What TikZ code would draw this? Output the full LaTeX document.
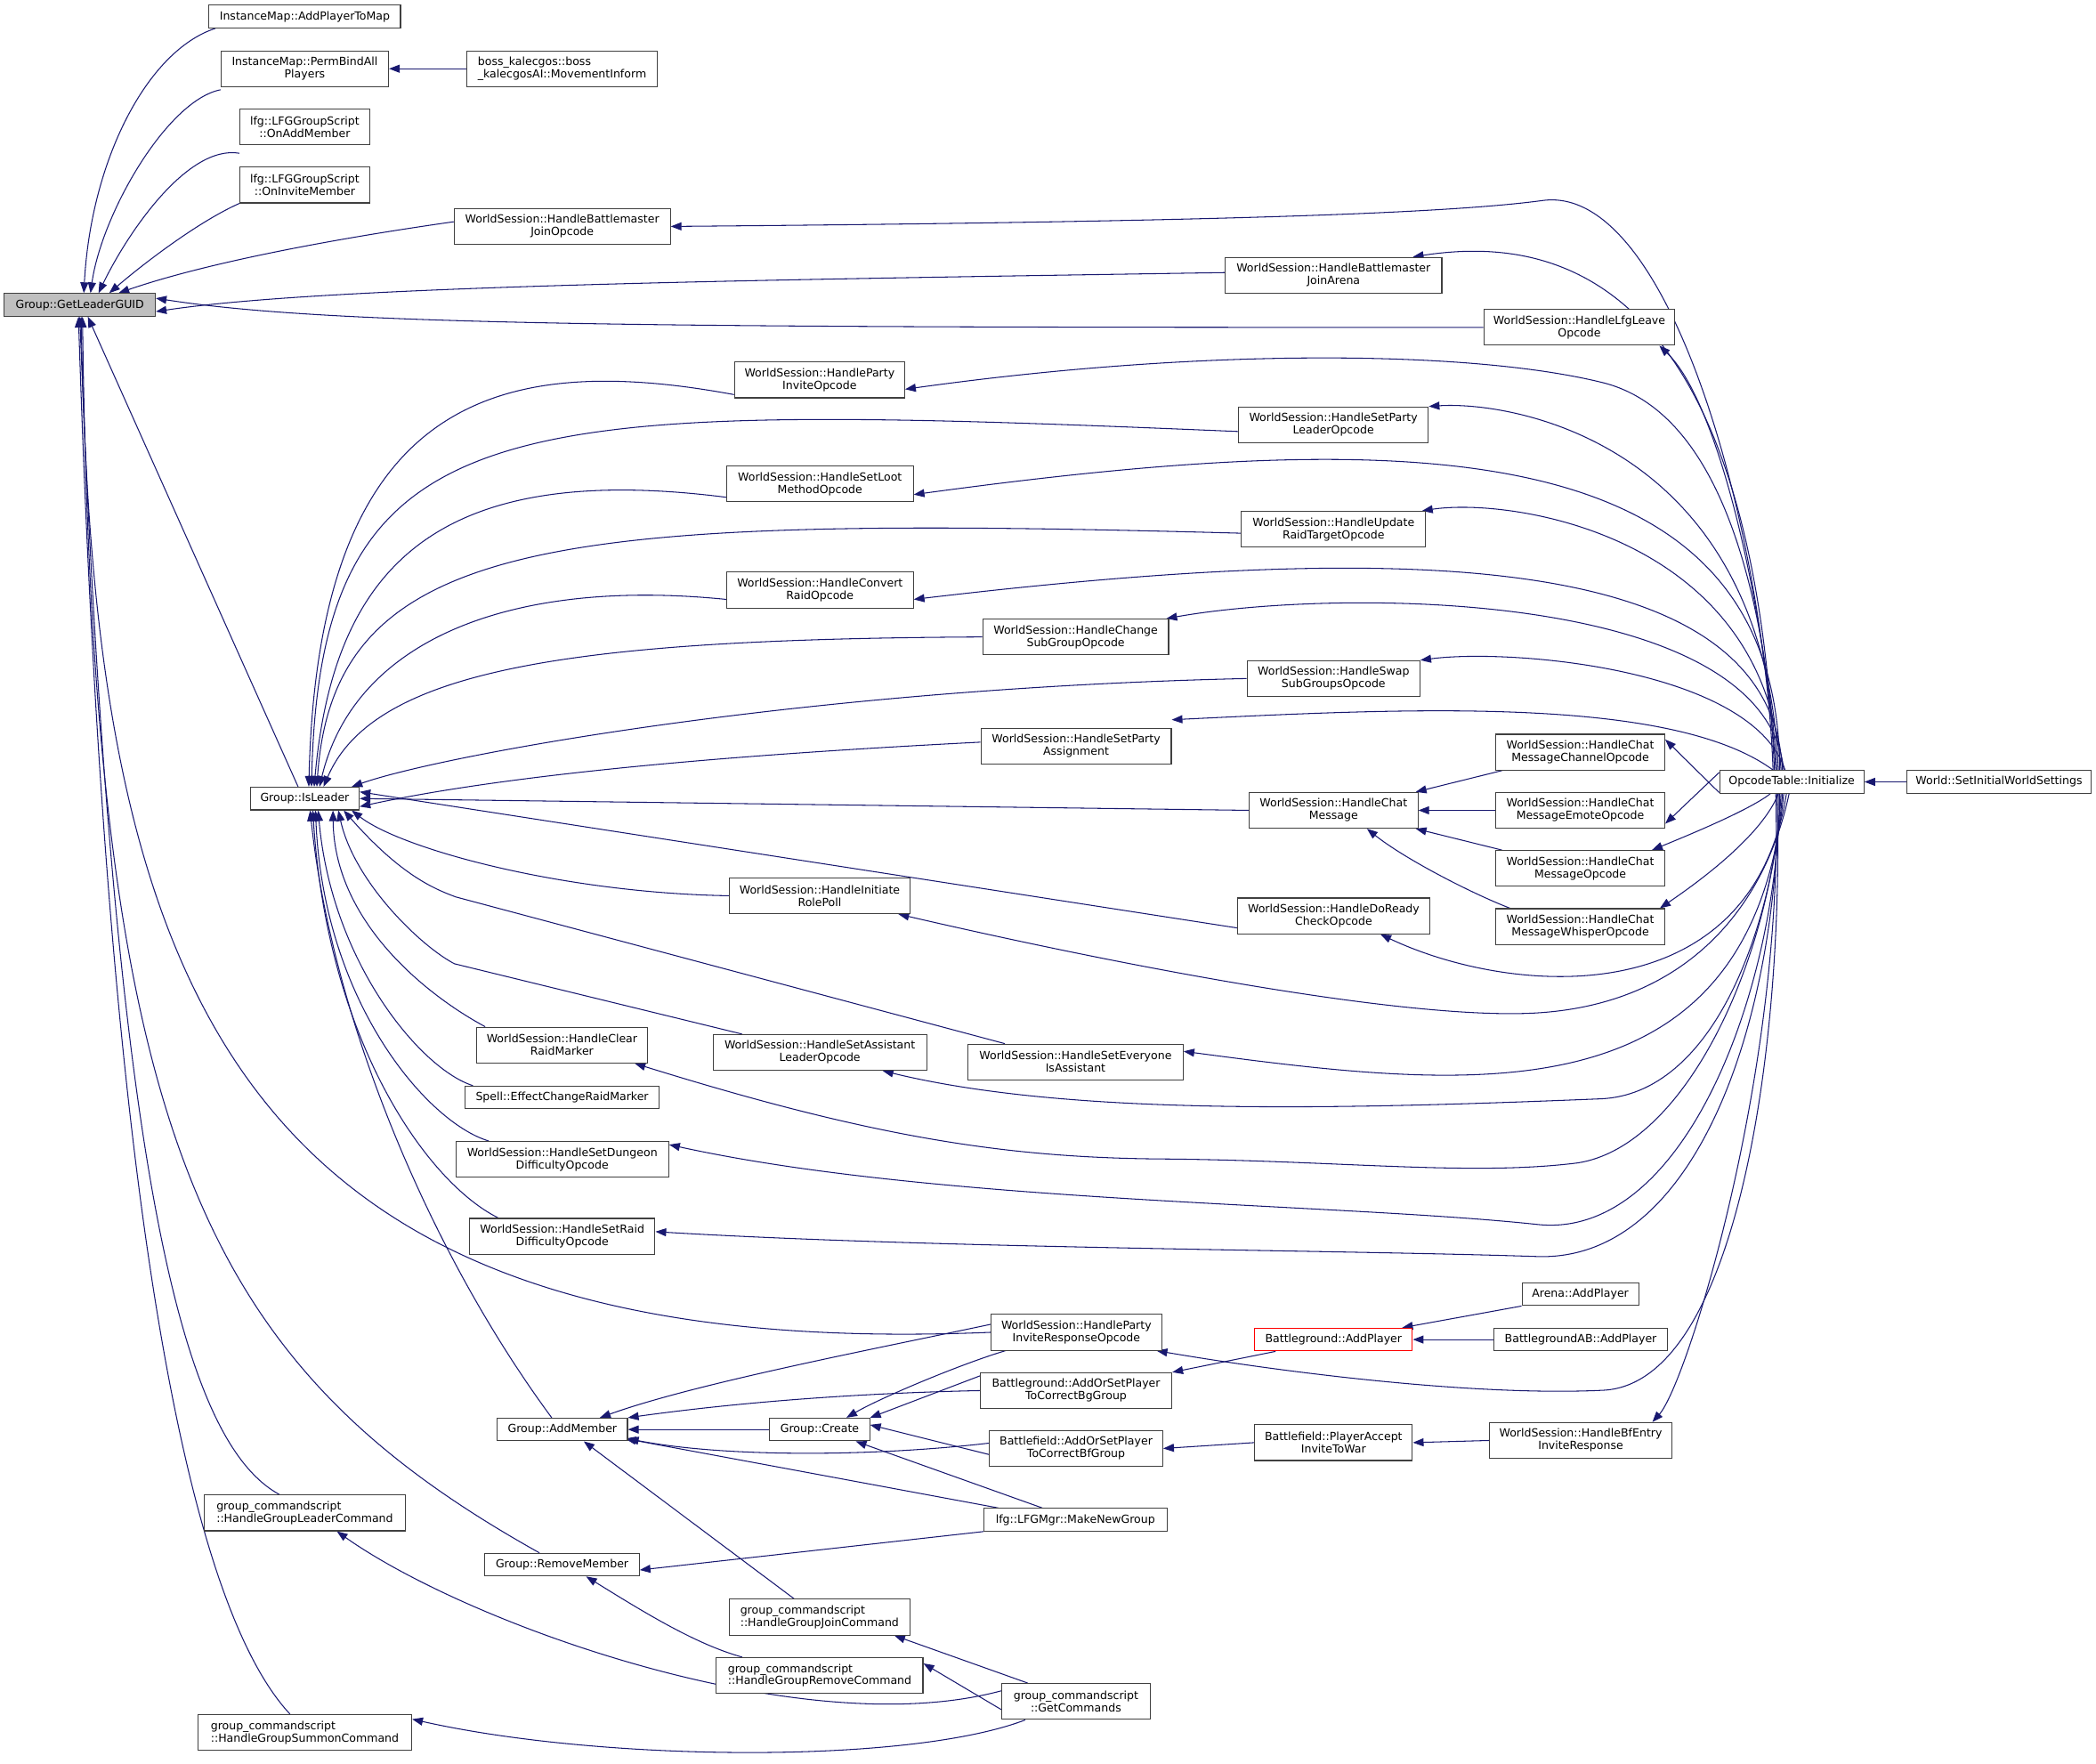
\documentclass[tikz,border=0pt]{standalone}
\usepackage{fontspec}
\setmainfont{DejaVu Sans}
\usetikzlibrary{arrows.meta}
\pgfdeclarelayer{edges}
\pgfsetlayers{edges,main}
\definecolor{edgeblue}{RGB}{25,25,112}
\definecolor{rootgray}{RGB}{191,191,191}
\tikzset{every picture/.style={line width=0.7pt}}
\tikzset{
	fn/.style={draw=black!75, fill=white, inner sep=1pt, minimum height=17pt, font=\fontsize{8.35}{9.3}\selectfont, align=center},
	fntwo/.style={fn, minimum height=26.8pt},
	call/.style={draw=edgeblue, line width=0.7pt, {Triangle[length=8pt,width=6pt]}-}
}

\begin{document}
\begin{tikzpicture}[x=1pt,y=1pt,yscale=-1,xscale=1]
	\useasboundingbox (0,0) rectangle (1568,1319.6);

	% Nodes
	\node[fn, fill=rootgray, minimum width=113pt] (getleader) at (59.7,228.1) {Group::GetLeaderGUID};
	\node[fn, minimum width=143.2pt] (addplayertomap) at (228,12.4) {InstanceMap::AddPlayerToMap};
	\node[fntwo, minimum width=125.3pt] (permbind) at (228,51.4) {InstanceMap::PermBindAll\\Players};
	\node[fntwo, minimum width=143pt, align=left] (boss) at (420.5,51.4) {boss\_kalecgos::boss\\\_kalecgosAI::MovementInform};
	\node[fntwo, minimum width=97pt] (onadd) at (228,94.9) {lfg::LFGGroupScript\\::OnAddMember};
	\node[fntwo, minimum width=97pt] (oninvite) at (228,138.4) {lfg::LFGGroupScript\\::OnInviteMember};
	\node[fntwo, minimum width=161.7pt] (bmjoinop) at (420.6,169.4) {WorldSession::HandleBattlemaster\\JoinOpcode};
	\node[fntwo, minimum width=162pt] (bmjoinarena) at (997.6,205.9) {WorldSession::HandleBattlemaster\\JoinArena};
	\node[fntwo, minimum width=143pt] (lfgleave) at (1181.5,244.9) {WorldSession::HandleLfgLeave\\Opcode};
	\node[fntwo, minimum width=127.3pt] (partyinvite) at (613.1,284.2) {WorldSession::HandleParty\\InviteOpcode};
	\node[fntwo, minimum width=142pt] (setpartyleader) at (997.5,317.8) {WorldSession::HandleSetParty\\LeaderOpcode};
	\node[fntwo, minimum width=139.6pt] (setloot) at (613.4,362) {WorldSession::HandleSetLoot\\MethodOpcode};
	\node[fntwo, minimum width=137.7pt] (updateraid) at (997.6,395.9) {WorldSession::HandleUpdate\\RaidTargetOpcode};
	\node[fntwo, minimum width=139.6pt] (convertraid) at (613.4,441.4) {WorldSession::HandleConvert\\RaidOpcode};
	\node[fntwo, minimum width=139pt] (changesub) at (804.7,476.5) {WorldSession::HandleChange\\SubGroupOpcode};
	\node[fntwo, minimum width=129.3pt] (swapsub) at (997.6,507.6) {WorldSession::HandleSwap\\SubGroupsOpcode};
	\node[fntwo, minimum width=142.4pt] (partyassign) at (805,558.2) {WorldSession::HandleSetParty\\Assignment};
	\node[fntwo, minimum width=126.3pt] (chatmsg) at (997.6,606.2) {WorldSession::HandleChat\\Message};
	\node[fntwo, minimum width=126.4pt] (chatchannel) at (1182.2,562.7) {WorldSession::HandleChat\\MessageChannelOpcode};
	\node[fntwo, minimum width=126.4pt] (chatemote) at (1182.2,606.2) {WorldSession::HandleChat\\MessageEmoteOpcode};
	\node[fntwo, minimum width=126.4pt] (chatmsgop) at (1182.2,649.7) {WorldSession::HandleChat\\MessageOpcode};
	\node[fntwo, minimum width=126.4pt] (chatwhisper) at (1182.2,693.2) {WorldSession::HandleChat\\MessageWhisperOpcode};
	\node[fn, minimum width=108pt] (opcodeinit) at (1340.4,584.9) {OpcodeTable::Initialize};
	\node[fn, minimum width=137.8pt] (setinitial) at (1495.4,584.9) {World::SetInitialWorldSettings};
	\node[fn, minimum width=81.5pt] (isleader) at (228,597.4) {Group::IsLeader};
	\node[fntwo, minimum width=135pt] (initrole) at (613.2,670.1) {WorldSession::HandleInitiate\\RolePoll};
	\node[fntwo, minimum width=143.5pt] (doready) at (997.7,685.2) {WorldSession::HandleDoReady\\CheckOpcode};
	\node[fntwo, minimum width=128.2pt] (clearraid) at (420.4,781.8) {WorldSession::HandleClear\\RaidMarker};
	\node[fntwo, minimum width=159.8pt] (setassist) at (613.3,787.3) {WorldSession::HandleSetAssistant\\LeaderOpcode};
	\node[fntwo, minimum width=161pt] (seteveryone) at (804.6,794.5) {WorldSession::HandleSetEveryone\\IsAssistant};
	\node[fn, minimum width=144.7pt] (spellraid) at (420.5,821) {Spell::EffectChangeRaidMarker};
	\node[fntwo, minimum width=159.3pt] (setdungeon) at (420.6,867.3) {WorldSession::HandleSetDungeon\\DifficultyOpcode};
	\node[fntwo, minimum width=138.8pt] (setraid) at (420.6,924.9) {WorldSession::HandleSetRaid\\DifficultyOpcode};
	\node[fntwo, minimum width=127.4pt] (partyinvresp) at (805.2,996.7) {WorldSession::HandleParty\\InviteResponseOpcode};
	\node[fn, draw=red, minimum width=118pt] (bgaddplayer) at (997.6,1002.1) {Battleground::AddPlayer};
	\node[fn, minimum width=87.3pt] (arenaadd) at (1182.2,968.2) {Arena::AddPlayer};
	\node[fn, minimum width=129.8pt] (bgabadd) at (1182.5,1002.1) {BattlegroundAB::AddPlayer};
	\node[fntwo, minimum width=143.3pt] (bgaddorset) at (805,1040.3) {Battleground::AddOrSetPlayer\\ToCorrectBgGroup};
	\node[fn, minimum width=97.4pt] (addmember) at (420.7,1069.4) {Group::AddMember};
	\node[fn, minimum width=74.7pt] (create) at (613.2,1069.4) {Group::Create};
	\node[fntwo, minimum width=129.7pt] (bfaddorset) at (805,1083.6) {Battlefield::AddOrSetPlayer\\ToCorrectBfGroup};
	\node[fntwo, minimum width=118pt] (bfaccept) at (997.6,1079.2) {Battlefield::PlayerAccept\\InviteToWar};
	\node[fntwo, minimum width=136.5pt] (bfentry) at (1182.5,1077.6) {WorldSession::HandleBfEntry\\InviteResponse};
	\node[fn, minimum width=137pt] (makenew) at (804.5,1136.9) {lfg::LFGMgr::MakeNewGroup};
	\node[fntwo, minimum width=150.3pt, align=left] (grpleadercmd) at (228,1131.8) {group\_commandscript\\::HandleGroupLeaderCommand};
	\node[fn, minimum width=115.5pt] (removemember) at (420.5,1170.5) {Group::RemoveMember};
	\node[fntwo, minimum width=135.2pt, align=left] (joincmd) at (613.1,1209.8) {group\_commandscript\\::HandleGroupJoinCommand};
	\node[fntwo, minimum width=154.5pt, align=left] (removecmd) at (613.2,1253.4) {group\_commandscript\\::HandleGroupRemoveCommand};
	\node[fntwo, minimum width=111.1pt] (getcommands) at (804.9,1272.9) {group\_commandscript\\::GetCommands};
	\node[fntwo, minimum width=160pt, align=left] (summoncmd) at (228,1296.1) {group\_commandscript\\::HandleGroupSummonCommand};

	\begin{pgfonlayer}{edges}
	% Callers of Group::GetLeaderGUID
	\draw[call] ([xshift=3pt]getleader.north) .. controls (68,120) and (110,38) .. ([xshift=5pt]addplayertomap.south west);
	\draw[call] ([xshift=8pt]getleader.north) .. controls (76,160) and (125,75) .. ([yshift=2pt]permbind.south west);
	\draw[call] ([xshift=14pt]getleader.north) .. controls (95,175) and (140,108) .. ([yshift=6pt]onadd.south west);
	\draw[call] ([xshift=22pt]getleader.north) .. controls (110,195) and (150,165) .. (oninvite.south west);
	\draw[call] ([xshift=29pt]getleader.north) .. controls (150,198) and (240,180) .. ([yshift=-3.5pt]bmjoinop.west);
	\draw[call] ([yshift=5pt]getleader.east) .. controls (250,213) and (600,209) .. ([yshift=-2pt]bmjoinarena.west);
	\draw[call] ([yshift=-5pt]getleader.east) .. controls (250,244) and (500,245) .. (lfgleave.west);
	\draw[call] ([xshift=6pt]getleader.south) -- ([xshift=-5pt]isleader.north);
	\draw[call] ([xshift=1pt]getleader.south) .. controls (70,750) and (180,1020) .. (partyinvresp.west);
	\draw[call] ([xshift=2pt]getleader.south) .. controls (70,850) and (150,1020) .. ([xshift=-17pt]removemember.north);
	\draw[call] (getleader.south) .. controls (85,900) and (140,1080) .. ([xshift=-19pt]grpleadercmd.north);
	\draw[call] ([xshift=-1pt]getleader.south) .. controls (80,900) and (140,1200) .. ([xshift=-11pt]summoncmd.north);
	\draw[call] (permbind.east) -- (boss.west);

	% Callers of Group::IsLeader
	\draw[call] ([xshift=3pt]isleader.north) .. controls (238,300) and (370,262) .. ([yshift=11pt]partyinvite.west);
	\draw[call] ([xshift=5pt]isleader.north) .. controls (240,300) and (380,300) .. ([yshift=5pt]setpartyleader.west);
	\draw[call] ([xshift=7pt]isleader.north) .. controls (250,420) and (331,345) .. ([yshift=10pt]setloot.west);
	\draw[call] ([xshift=9pt]isleader.north) .. controls (250,400) and (420,385) .. ([yshift=3pt]updateraid.west);
	\draw[call] ([xshift=11pt]isleader.north) .. controls (265,480) and (380,432) .. ([yshift=7pt]convertraid.west);
	\draw[call] ([xshift=14pt]isleader.north) .. controls (280,500) and (430,478) .. (changesub.west);
	\draw[call] ([xshift=-6pt]isleader.north east) .. controls (330,565) and (600,515) .. (swapsub.west);
	\draw[call] ([yshift=6pt]isleader.east) .. controls (400,575) and (600,562) .. ([yshift=-3pt]partyassign.west);
	\draw[call] (isleader.east) -- (chatmsg.west);
	\draw[call] ([yshift=-5pt]isleader.east) -- ([yshift=9pt]doready.west);
	\draw[call] ([xshift=-6pt]isleader.south east) .. controls (300,635) and (420,668) .. (initrole.west);
	\draw[call] ([xshift=-12pt]isleader.south east) .. controls (300,655) and (325,665) .. (341,671) -- ([xshift=28pt]seteveryone.north west);
	\draw[call] ([xshift=-16pt]isleader.south east) .. controls (265,660) and (315,708) .. (340,721) -- ([xshift=22pt]setassist.north west);
	\draw[call] ([xshift=-20pt]isleader.south east) .. controls (250,690) and (320,745) .. ([xshift=7pt]clearraid.north west);
	\draw[call] ([xshift=10pt]isleader.south) .. controls (248,720) and (315,800) .. ([xshift=6pt]spellraid.north west);
	\draw[call] ([xshift=8pt]isleader.south) .. controls (242,750) and (320,840) .. ([xshift=25pt]setdungeon.north west);
	\draw[call] ([xshift=6pt]isleader.south) .. controls (245,780) and (320,885) .. ([xshift=22pt]setraid.north west);
	\draw[call] ([xshift=4pt]isleader.south) .. controls (248,760) and (320,935) .. ([xshift=-8pt]addmember.north);

	% Chat handlers
	\draw[call] ([xshift=-2pt]chatmsg.north east) -- ([xshift=5pt]chatchannel.south west);
	\draw[call] (chatmsg.east) -- (chatemote.west);
	\draw[call] ([xshift=-2pt]chatmsg.south east) -- ([xshift=5pt]chatmsgop.north west);
	\draw[call] ([xshift=25pt]chatmsg.south) .. controls (1050,642) and (1100,668) .. ([xshift=11pt]chatwhisper.north west);

	% Called from OpcodeTable::Initialize
	\draw[call] (opcodeinit.east) -- (setinitial.west);
	\draw[call] ([yshift=-9.5pt]chatchannel.east) -- ([yshift=8pt]opcodeinit.west);
	\draw[call] ([yshift=10pt]chatemote.east) -- ([yshift=-7pt]opcodeinit.west);
	\draw[call] ([xshift=-10pt]chatmsgop.north east) .. controls (1270,622) and (1310,605) .. ([xshift=-16pt]opcodeinit.south);
	\draw[call] ([xshift=-4pt]chatwhisper.north east) .. controls (1285,650) and (1320,620) .. ([xshift=-10pt]opcodeinit.south);
	\draw[call] (bmjoinop.east) .. controls (900,166) and (1080,160) .. (1154,150) .. controls (1250,137) and (1320,400) .. ([xshift=-14pt]opcodeinit.north);
	\draw[call] ([xshift=-22pt]bmjoinarena.north east) .. controls (1150,178) and (1310,190) .. ([xshift=-13pt]opcodeinit.north);
	\draw[call] ([xshift=-12pt]lfgleave.south east) .. controls (1285,300) and (1320,450) .. ([xshift=-12pt]opcodeinit.north);
	\draw[call] ([yshift=7pt]partyinvite.east) .. controls (900,260) and (1100,262) .. (1198,286) .. controls (1290,308) and (1320,450) .. ([xshift=-11pt]opcodeinit.north);
	\draw[call] (setpartyleader.north east) .. controls (1130,300) and (1320,330) .. ([xshift=-10pt]opcodeinit.north);
	\draw[call] ([yshift=8pt]setloot.east) .. controls (1050,320) and (1330,320) .. ([xshift=-9pt]opcodeinit.north);
	\draw[call] ([xshift=-3pt]updateraid.north east) .. controls (1130,372) and (1320,400) .. ([xshift=-8pt]opcodeinit.north);
	\draw[call] ([yshift=7pt]convertraid.east) .. controls (1050,405) and (1325,410) .. ([xshift=-7pt]opcodeinit.north);
	\draw[call] ([xshift=-2pt]changesub.north east) .. controls (1000,440) and (1320,440) .. ([xshift=-6pt]opcodeinit.north);
	\draw[call] (swapsub.north east) .. controls (1130,485) and (1310,500) .. ([xshift=-5pt]opcodeinit.north);
	\draw[call] ([yshift=-6pt]partyassign.north east) .. controls (1050,530) and (1250,520) .. ([xshift=-14pt]opcodeinit.north);
	\draw[call] ([xshift=-9pt]initrole.south east) .. controls (850,725) and (1050,762) .. (1145,758) .. controls (1260,753) and (1320,680) .. ([xshift=-2pt]opcodeinit.south);
	\draw[call] ([xshift=35pt]doready.south) .. controls (1130,745) and (1310,760) .. ([xshift=-4pt]opcodeinit.south);
	\draw[call] ([yshift=-8pt]seteveryone.east) .. controls (1100,815) and (1310,840) .. ([xshift=-6pt]opcodeinit.south);
	\draw[call] ([xshift=47pt]setassist.south) .. controls (800,835) and (1000,830) .. (1198,822) .. controls (1280,818) and (1325,700) .. ([xshift=-7pt]opcodeinit.south);
	\draw[call] ([xshift=-10pt]clearraid.south east) .. controls (650,850) and (750,866) .. (868,867) .. controls (1000,868) and (1100,880) .. (1180,870) .. controls (1260,858) and (1325,720) .. ([xshift=-8pt]opcodeinit.south);
	\draw[call] ([yshift=-11pt]setdungeon.east) .. controls (700,900) and (1000,900) .. (1150,916) .. controls (1260,928) and (1330,740) .. ([xshift=-9pt]opcodeinit.south);
	\draw[call] ([yshift=-3.5pt]setraid.east) .. controls (700,934) and (1000,935) .. (1150,940) .. controls (1270,944) and (1330,760) .. ([xshift=-10pt]opcodeinit.south);
	\draw[call] ([xshift=-4pt]partyinvresp.south east) .. controls (950,1025) and (1100,1045) .. (1200,1040) .. controls (1300,1034) and (1335,780) .. ([xshift=-11pt]opcodeinit.south);
	\draw[call] ([xshift=-15pt]bfentry.north east) .. controls (1262,1035) and (1335,800) .. ([xshift=-12pt]opcodeinit.south);

	% Battleground / battlefield
	\draw[call] ([xshift=-8pt]bgaddplayer.north east) -- (arenaadd.south west);
	\draw[call] (bgaddplayer.east) -- (bgabadd.west);
	\draw[call] (bgaddorset.north east) -- ([xshift=16pt]bgaddplayer.south west);
	\draw[call] (bfaddorset.east) -- (bfaccept.west);
	\draw[call] (bfaccept.east) -- (bfentry.west);

	% Group::AddMember, Group::Create, Group::RemoveMember
	\draw[call] ([xshift=-21pt]addmember.north east) .. controls (520,1035) and (650,1010) .. ([yshift=-6pt]partyinvresp.west);
	\draw[call] (addmember.north east) .. controls (560,1048) and (650,1042) .. (bgaddorset.west);
	\draw[call] (addmember.east) -- (create.west);
	\draw[call] ([yshift=-2pt]addmember.south east) .. controls (540,1090) and (650,1090) .. ([yshift=-4pt]bfaddorset.west);
	\draw[call] ([xshift=-2pt,yshift=-2pt]addmember.south east) -- ([xshift=11pt]makenew.north west);
	\draw[call] ([xshift=16pt]addmember.south) -- ([xshift=-19pt]joincmd.north);
	\draw[call] ([xshift=20pt]create.north) .. controls (660,1045) and (720,1020) .. ([xshift=11pt]partyinvresp.south west);
	\draw[call] (create.north east) -- ([yshift=-11pt]bgaddorset.west);
	\draw[call] ([yshift=-3.5pt]create.east) -- ([yshift=4.5pt]bfaddorset.west);
	\draw[call] ([xshift=27pt]create.south) -- ([xshift=44pt]makenew.north west);
	\draw[call] ([yshift=4pt]removemember.east) -- (makenew.south west);
	\draw[call] ([xshift=18pt]removemember.south) .. controls (480,1205) and (520,1230) .. ([xshift=-58pt]removecmd.north);

	% group_commandscript::GetCommands
	\draw[call] ([xshift=-12pt]joincmd.south east) -- ([xshift=20pt]getcommands.north west);
	\draw[call] ([yshift=-9pt]removecmd.east) -- ([yshift=6pt]getcommands.west);
	\draw[call] ([xshift=24pt]grpleadercmd.south) .. controls (350,1215) and (600,1305) .. ([yshift=-8pt]getcommands.west);
	\draw[call] ([yshift=-10pt]summoncmd.east) .. controls (450,1318) and (680,1320) .. ([xshift=18pt]getcommands.south west);
	\end{pgfonlayer}

\end{tikzpicture}
\end{document}
